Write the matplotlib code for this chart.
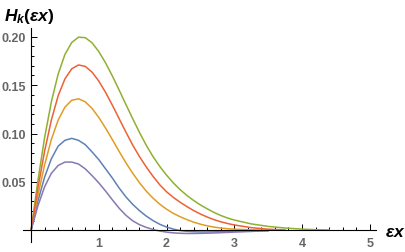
import numpy as np
import matplotlib
matplotlib.use("Agg")
import matplotlib.pyplot as plt
from matplotlib.ticker import FixedLocator, NullFormatter

plt.rcParams['font.family'] = ['Liberation Sans', 'DejaVu Sans']
plt.rcParams['mathtext.fontset'] = 'custom'
plt.rcParams['mathtext.it'] = 'Liberation Sans:italic:bold'
plt.rcParams['mathtext.rm'] = 'Liberation Sans:bold'

# sample points along eps*x
x = [0.0, 0.1, 0.2, 0.3, 0.4, 0.5, 0.6, 0.7, 0.8, 0.9, 1.0,
     1.1, 1.2, 1.3, 1.4, 1.5, 1.6, 1.7, 1.8, 1.9, 2.0,
     2.1, 2.2, 2.3, 2.4, 2.5, 2.6, 2.7, 2.8, 2.9, 3.0,
     3.25, 3.5]
x_green = x + [3.75, 4.0, 4.2, 4.4]
x_red = x + [3.75]

h_blue = [0.0, 0.030, 0.055, 0.074, 0.087, 0.093, 0.095, 0.093, 0.0885, 0.081, 0.073,
          0.0635, 0.054, 0.0437, 0.0345, 0.0268, 0.0203, 0.0147, 0.0100, 0.0062, 0.0033,
          0.0012, -0.0003, -0.0011, -0.0015, -0.0017, -0.0017, -0.0016, -0.0014, -0.0012, -0.001,
          -0.0006, -0.0003]
h_orange = [0.0, 0.0357, 0.0677, 0.094, 0.1139, 0.1273, 0.1344, 0.1359, 0.1328, 0.126, 0.1166,
            0.1056, 0.0937, 0.0815, 0.0698, 0.059, 0.0492, 0.0405, 0.0332, 0.027, 0.0218,
            0.0175, 0.014, 0.011, 0.0084, 0.0063, 0.0046, 0.0033, 0.0023, 0.0016, 0.0011,
            0.0004, 0.0001]
h_green = [0.0, 0.0509, 0.0959, 0.133, 0.1615, 0.1818, 0.1941, 0.1996, 0.1991, 0.1938, 0.1847,
           0.173, 0.1595, 0.145, 0.130, 0.1154, 0.1012, 0.0879, 0.0762, 0.066, 0.057,
           0.049, 0.042, 0.036, 0.0308, 0.0262, 0.0222, 0.0185, 0.0153, 0.0127, 0.0106,
           0.0066, 0.0040, 0.0023, 0.0012, 0.0006, 0.0003]
h_red = [0.0, 0.0432, 0.0819, 0.1141, 0.1391, 0.1565, 0.1669, 0.1709, 0.1694, 0.1635, 0.1542,
         0.1425, 0.1293, 0.1154, 0.1015, 0.0881, 0.0762, 0.0655, 0.0558, 0.047, 0.0398,
         0.034, 0.029, 0.0245, 0.0204, 0.0168, 0.0137, 0.011, 0.0088, 0.007, 0.0055,
         0.0027, 0.0011, 0.0003]
h_purple = [0.0, 0.025, 0.045, 0.059, 0.067, 0.0705, 0.0705, 0.0685, 0.0635, 0.0565, 0.049,
            0.0405, 0.0315, 0.0228, 0.0155, 0.0098, 0.0058, 0.003, 0.0008, -0.0008, -0.0019,
            -0.0027, -0.0031, -0.0033, -0.0033, -0.0032, -0.003, -0.0028, -0.0025, -0.0022, -0.0019,
            -0.0012, -0.0005]

x_ticks = [1, 2, 3, 4, 5]
y_ticks = [0.05, 0.10, 0.15, 0.20]

fig = plt.figure(figsize=(4.05, 2.53), dpi=100)
ax = fig.add_axes([0.057, 0.04, 0.871, 0.845])

lw = 1.1
ax.plot(x, h_blue, color='#5E81B5', lw=lw)
ax.plot(x, h_orange, color='#E19C24', lw=lw)
ax.plot(x_green, h_green, color='#8FB032', lw=lw)
ax.plot(x_red, h_red, color='#EB6235', lw=lw)
ax.plot(x, h_purple, color='#8778B3', lw=lw)

ax.set_xlim(-0.118, 5.09)
ax.set_ylim(-0.012, 0.209)

for s in ['top', 'right']:
    ax.spines[s].set_visible(False)
ax.spines['left'].set_position(('data', 0))
ax.spines['bottom'].set_position(('data', 0))
ax.spines['left'].set_linewidth(0.8)
ax.spines['bottom'].set_linewidth(0.8)

ax.xaxis.set_major_locator(FixedLocator(x_ticks))
ax.xaxis.set_minor_locator(FixedLocator([v / 5 for v in range(1, 26) if v % 5]))
ax.yaxis.set_major_locator(FixedLocator(y_ticks))
ax.yaxis.set_minor_locator(FixedLocator([v / 100 for v in range(1, 21) if v % 5]))
ax.set_xticklabels([str(t) for t in x_ticks])
ax.set_yticklabels(['%.2f' % t for t in y_ticks])
ax.xaxis.set_minor_formatter(NullFormatter())
ax.yaxis.set_minor_formatter(NullFormatter())

ax.tick_params(which='both', direction='in', width=0.7, color='black')
ax.tick_params(which='major', length=4)
ax.tick_params(which='minor', length=2)
ax.tick_params(axis='x', pad=5, labelsize=9, labelcolor='#666666')
ax.tick_params(axis='y', pad=4, labelsize=9, labelcolor='#666666')
for lab in ax.get_xticklabels() + ax.get_yticklabels():
    lab.set_fontweight('bold')

fig.text(0.01, 0.935, r'$H_k(\epsilon x)$', fontsize=12.5, va='center', ha='left')
fig.text(0.951, 0.083, r'$\epsilon x$', fontsize=12.5, va='center', ha='left')

fig.savefig('out.png', dpi=100)
